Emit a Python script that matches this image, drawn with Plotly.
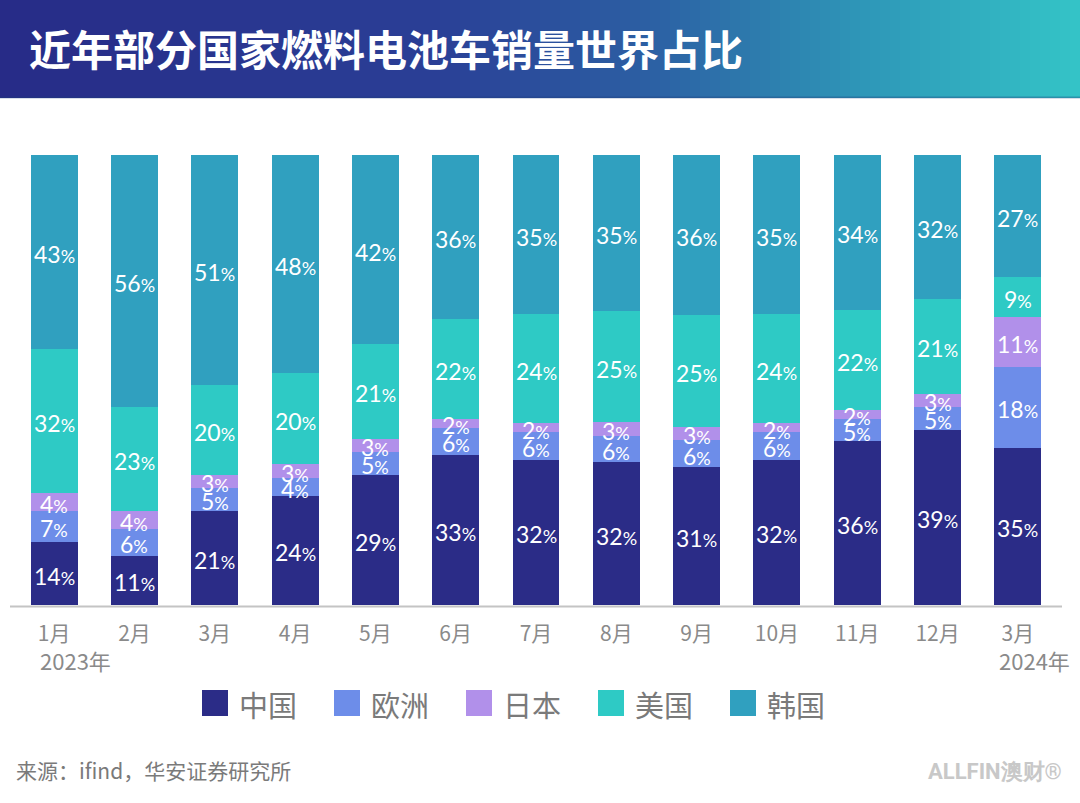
import plotly.graph_objects as go

# ---------------- data ----------------
months = ["1月", "2月", "3月", "4月", "5月", "6月", "7月", "8月", "9月", "10月", "11月", "12月", "3月"]
year_labels = ["2023年", "2024年"]
series_names = ["中国", "欧洲", "日本", "美国", "韩国"]
china = [14, 11, 21, 24, 29, 33, 32, 32, 31, 32, 36, 39, 35]
europe = [7, 6, 5, 4, 5, 6, 6, 6, 6, 6, 5, 5, 18]
japan = [4, 4, 3, 3, 3, 2, 2, 3, 3, 2, 2, 3, 11]
usa = [32, 23, 20, 20, 21, 22, 24, 25, 25, 24, 22, 21, 9]
korea = [43, 56, 51, 48, 42, 36, 35, 35, 36, 35, 34, 32, 27]
title_text = "近年部分国家燃料电池车销量世界占比"
source_text = "来源：ifind，华安证券研究所"
brand_text = "ALLFIN澳财®"

colors = ["#2b2c87", "#6d8de9", "#b190ea", "#2ecac5", "#30a0bf"]
values = [china, europe, japan, usa, korea]

# ---------------- layout geometry (pixels) ----------------
W, H = 1080, 803
ML, MR, MT, MB = 14, 22, 155, 198
PW = W - ML - MR
PH = H - MT - MB


def px(xp):
    return (xp - ML) / PW


def py(yp):
    return (H - MB - yp) / PH


CJK = "Noto Sans CJK SC"

fig = go.Figure()
xs = list(range(len(months)))
for name, vals, col in zip(series_names, values, colors):
    fig.add_trace(go.Bar(
        x=xs, y=vals, name=name,
        marker=dict(color=col, line=dict(width=0)),
        showlegend=False, hoverinfo="skip",
    ))

shapes = []
annotations = []

# value labels drawn on top of all bars, centred in each (normalised) segment
totals = [sum(col) for col in zip(*values)]
cum = [0] * len(months)
for vals in values:
    for i, v in enumerate(vals):
        annotations.append(dict(
            x=i, y=(cum[i] + v / 2) / totals[i] * 100, xref="x", yref="y",
            text=f"{v}<span style='font-size:18px'>%</span>", showarrow=False,
            xanchor="center", yanchor="middle", yshift=-2,
            font=dict(family="Lato", size=23, color="white")))
        cum[i] += v

# header gradient band
stops = [(0.0, (39, 43, 135)), (0.4, (42, 63, 150)), (0.6, (44, 95, 163)),
         (0.8, (46, 151, 184)), (1.0, (52, 196, 199))]


def grad(t):
    for (t0, c0), (t1, c1) in zip(stops[:-1], stops[1:]):
        if t <= t1:
            f = (t - t0) / (t1 - t0)
            return "rgb(%d,%d,%d)" % tuple(round(a + (b - a) * f) for a, b in zip(c0, c1))
    return "rgb(%d,%d,%d)" % stops[-1][1]


N = 108
step = W / N
for i in range(N):
    x0 = i * step
    shapes.append(dict(type="rect", xref="paper", yref="paper",
                       x0=px(x0), x1=px(x0 + step + 1), y0=py(98), y1=py(0),
                       fillcolor=grad((i + 0.5) / N), line=dict(width=0), layer="below"))
shapes.append(dict(type="line", xref="paper", yref="paper", x0=px(0), x1=px(W),
                   y0=py(97.5), y1=py(97.5), line=dict(color="rgba(30,60,120,0.35)", width=2)))

annotations.append(dict(text=title_text, xref="paper", yref="paper", x=px(27), y=py(47),
                        xanchor="left", yanchor="middle", showarrow=False,
                        font=dict(family=CJK, size=42, color="white", weight="bold")))

# axis baseline
shapes.append(dict(type="line", xref="paper", yref="paper", x0=px(10), x1=px(1062),
                   y0=py(606.5), y1=py(606.5), line=dict(color="#c4c4c4", width=2)))

# year labels under first and last ticks
annotations.append(dict(text=year_labels[0], xref="x", yref="paper", x=0, xshift=-16, y=py(660),
                        xanchor="left", yanchor="middle", showarrow=False,
                        font=dict(family=CJK, size=22, color="#8a8a8a")))
annotations.append(dict(text=year_labels[1], xref="x", yref="paper", x=len(months) - 1, xshift=-21,
                        y=py(660), xanchor="left", yanchor="middle", showarrow=False,
                        font=dict(family=CJK, size=22, color="#8a8a8a")))

# custom legend
leg_x0 = 202
leg_step = 132
for i, (name, col) in enumerate(zip(series_names, colors)):
    lx = leg_x0 + i * leg_step
    shapes.append(dict(type="rect", xref="paper", yref="paper",
                       x0=px(lx), x1=px(lx + 26), y0=py(716), y1=py(690),
                       fillcolor=col, line=dict(width=0)))
    annotations.append(dict(text=name, xref="paper", yref="paper", x=px(lx + 35), y=py(704),
                            xanchor="left", yanchor="middle", showarrow=False,
                            font=dict(family=CJK, size=29, color="#7a7a7a")))

# footer
annotations.append(dict(text=source_text, xref="paper", yref="paper", x=px(14), y=py(770),
                        xanchor="left", yanchor="middle", showarrow=False,
                        font=dict(family=CJK, size=21, color="#7a7a7a")))
annotations.append(dict(text=brand_text, xref="paper", yref="paper", x=px(1064), y=py(771),
                        xanchor="right", yanchor="middle", showarrow=False,
                        font=dict(family="Roboto", size=22, color="#c8c8c8", weight="bold")))

fig.update_layout(
    width=W, height=H,
    margin=dict(l=ML, r=MR, t=MT, b=MB, pad=0),
    paper_bgcolor="white", plot_bgcolor="white",
    barmode="stack", barnorm="percent", bargap=0.415,
    xaxis=dict(range=[-0.5, len(months) - 0.5], tickmode="array", tickvals=xs, ticktext=months,
               showgrid=False, zeroline=False, showline=False, ticks="",
               ticklabelstandoff=14,
               tickfont=dict(family=CJK, size=21, color="#8a8a8a"), fixedrange=True),
    yaxis=dict(range=[0, 100], visible=False, fixedrange=True),
    shapes=shapes, annotations=annotations,
    showlegend=False,
)

fig.write_html("out.html")
